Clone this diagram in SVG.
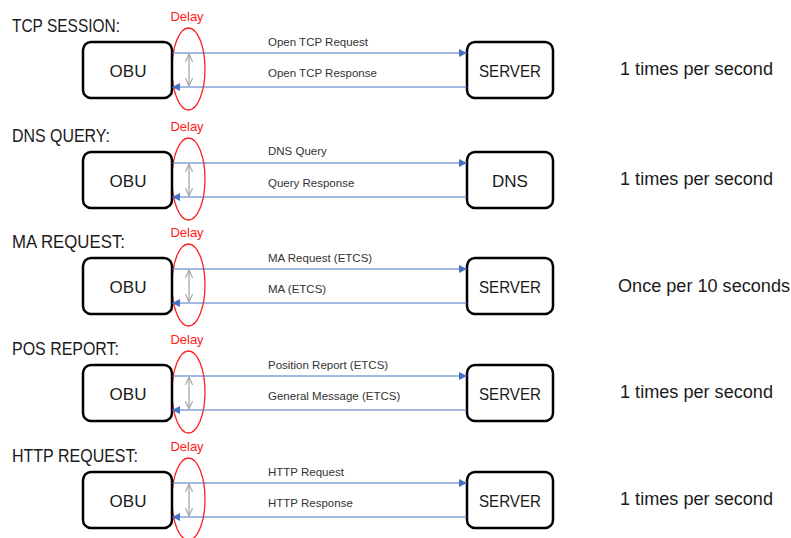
<svg xmlns="http://www.w3.org/2000/svg" width="791" height="538" viewBox="0 0 791 538">
  <style>
    .title { font-family: "Liberation Sans", Arial, sans-serif; font-size: 18.5px; fill: #1a1a1a; }
    .box { fill: #ffffff; stroke: #000000; stroke-width: 2.5; }
    .boxtxt { font-family: "Liberation Sans", Arial, sans-serif; font-size: 17px; fill: #1a1a1a; text-anchor: middle; }
    .rate { font-family: "Liberation Sans", Arial, sans-serif; font-size: 18px; fill: #1a1a1a; }
    .msg { font-family: "Liberation Sans", Arial, sans-serif; font-size: 11.5px; fill: #333333; }
    .delay { font-family: "Liberation Sans", Arial, sans-serif; font-size: 13px; fill: #ff2020; text-anchor: middle; }
    .ring { fill: none; stroke: #ff2020; stroke-width: 1.3; }
    .flow { stroke: #4472c4; stroke-width: 1; fill: none; }
    .span { stroke: #a0a0a0; stroke-width: 1.2; fill: none; }
  </style>
  <defs>
    <marker id="blue-head" viewBox="0 0 10 10" refX="10" refY="5" markerWidth="8" markerHeight="8" markerUnits="userSpaceOnUse" orient="auto">
      <path d="M0,0 L10,5 L0,10 z" fill="#4472c4"/>
    </marker>
    <marker id="chev" viewBox="0 0 10 10" refX="10" refY="5" markerWidth="8" markerHeight="8" markerUnits="userSpaceOnUse" orient="auto-start-reverse">
      <path d="M0,0.5 L10,5 L0,9.5" fill="none" stroke="#a0a0a0" stroke-width="1.3"/>
    </marker>
    <g id="row-frame">
      <ellipse class="ring" cx="188.5" cy="69" rx="16.5" ry="41"/>
      <text class="delay" x="187" y="21">Delay</text>
    </g>
  </defs>

  <!-- section titles -->
  <text class="title" x="12" y="32" textLength="108" lengthAdjust="spacingAndGlyphs">TCP SESSION:</text>
  <text class="title" x="12" y="142" textLength="98" lengthAdjust="spacingAndGlyphs">DNS QUERY:</text>
  <text class="title" x="12" y="248" textLength="113" lengthAdjust="spacingAndGlyphs">MA REQUEST:</text>
  <text class="title" x="12" y="355" textLength="107" lengthAdjust="spacingAndGlyphs">POS REPORT:</text>
  <text class="title" x="12" y="462" textLength="126" lengthAdjust="spacingAndGlyphs">HTTP REQUEST:</text>

  <!-- delay markers -->
  <use href="#row-frame"/>
  <use href="#row-frame" transform="translate(0,110)"/>
  <use href="#row-frame" transform="translate(0,216)"/>
  <use href="#row-frame" transform="translate(0,323)"/>
  <use href="#row-frame" transform="translate(0,430)"/>

  <!-- nodes -->
  <g id="obu-tcp">
    <rect class="box" x="83" y="42" width="89" height="56" rx="8"/>
    <text class="boxtxt" x="128" y="77">OBU</text>
  </g>
  <g id="server-tcp">
    <rect class="box" x="467" y="42" width="86" height="56" rx="8"/>
    <text class="boxtxt" x="510" y="77" textLength="62" lengthAdjust="spacingAndGlyphs">SERVER</text>
  </g>
  <g id="obu-dns">
    <rect class="box" x="83" y="152" width="89" height="56" rx="8"/>
    <text class="boxtxt" x="128" y="187">OBU</text>
  </g>
  <g id="dns">
    <rect class="box" x="467" y="152" width="86" height="56" rx="8"/>
    <text class="boxtxt" x="510" y="187">DNS</text>
  </g>
  <g id="obu-ma">
    <rect class="box" x="83" y="258" width="89" height="56" rx="8"/>
    <text class="boxtxt" x="128" y="293">OBU</text>
  </g>
  <g id="server-ma">
    <rect class="box" x="467" y="258" width="86" height="56" rx="8"/>
    <text class="boxtxt" x="510" y="293" textLength="62" lengthAdjust="spacingAndGlyphs">SERVER</text>
  </g>
  <g id="obu-pos">
    <rect class="box" x="83" y="365" width="89" height="56" rx="8"/>
    <text class="boxtxt" x="128" y="400">OBU</text>
  </g>
  <g id="server-pos">
    <rect class="box" x="467" y="365" width="86" height="56" rx="8"/>
    <text class="boxtxt" x="510" y="400" textLength="62" lengthAdjust="spacingAndGlyphs">SERVER</text>
  </g>
  <g id="obu-http">
    <rect class="box" x="83" y="472" width="89" height="56" rx="8"/>
    <text class="boxtxt" x="128" y="507">OBU</text>
  </g>
  <g id="server-http">
    <rect class="box" x="467" y="472" width="86" height="56" rx="8"/>
    <text class="boxtxt" x="510" y="507" textLength="62" lengthAdjust="spacingAndGlyphs">SERVER</text>
  </g>

  <!-- connectors: request / response pairs and delay spans -->
  <g id="connectors">
    <line class="flow" x1="172" y1="53" x2="467" y2="53" marker-end="url(#blue-head)"/>
    <line class="flow" x1="467" y1="87" x2="172" y2="87" marker-end="url(#blue-head)"/>
    <line class="span" x1="189" y1="54" x2="189" y2="86" marker-start="url(#chev)" marker-end="url(#chev)"/>

    <line class="flow" x1="172" y1="163" x2="467" y2="163" marker-end="url(#blue-head)"/>
    <line class="flow" x1="467" y1="197" x2="172" y2="197" marker-end="url(#blue-head)"/>
    <line class="span" x1="189" y1="164" x2="189" y2="196" marker-start="url(#chev)" marker-end="url(#chev)"/>

    <line class="flow" x1="172" y1="269" x2="467" y2="269" marker-end="url(#blue-head)"/>
    <line class="flow" x1="467" y1="303" x2="172" y2="303" marker-end="url(#blue-head)"/>
    <line class="span" x1="189" y1="270" x2="189" y2="302" marker-start="url(#chev)" marker-end="url(#chev)"/>

    <line class="flow" x1="172" y1="376" x2="467" y2="376" marker-end="url(#blue-head)"/>
    <line class="flow" x1="467" y1="410" x2="172" y2="410" marker-end="url(#blue-head)"/>
    <line class="span" x1="189" y1="377" x2="189" y2="409" marker-start="url(#chev)" marker-end="url(#chev)"/>

    <line class="flow" x1="172" y1="483" x2="467" y2="483" marker-end="url(#blue-head)"/>
    <line class="flow" x1="467" y1="517" x2="172" y2="517" marker-end="url(#blue-head)"/>
    <line class="span" x1="189" y1="484" x2="189" y2="516" marker-start="url(#chev)" marker-end="url(#chev)"/>
  </g>

  <!-- message labels -->
  <text class="msg" x="268" y="46">Open TCP Request</text>
  <text class="msg" x="268" y="77">Open TCP Response</text>
  <text class="msg" x="268" y="155">DNS Query</text>
  <text class="msg" x="268" y="187">Query Response</text>
  <text class="msg" x="268" y="262">MA Request (ETCS)</text>
  <text class="msg" x="268" y="293">MA (ETCS)</text>
  <text class="msg" x="268" y="369">Position Report (ETCS)</text>
  <text class="msg" x="268" y="400">General Message (ETCS)</text>
  <text class="msg" x="268" y="476">HTTP Request</text>
  <text class="msg" x="268" y="507">HTTP Response</text>

  <!-- repetition rates -->
  <text class="rate" x="620" y="75" textLength="153" lengthAdjust="spacingAndGlyphs">1 times per second</text>
  <text class="rate" x="620" y="185" textLength="153" lengthAdjust="spacingAndGlyphs">1 times per second</text>
  <text class="rate" x="618" y="292" textLength="172" lengthAdjust="spacingAndGlyphs">Once per 10 seconds</text>
  <text class="rate" x="620" y="398" textLength="153" lengthAdjust="spacingAndGlyphs">1 times per second</text>
  <text class="rate" x="620" y="505" textLength="153" lengthAdjust="spacingAndGlyphs">1 times per second</text>
</svg>
